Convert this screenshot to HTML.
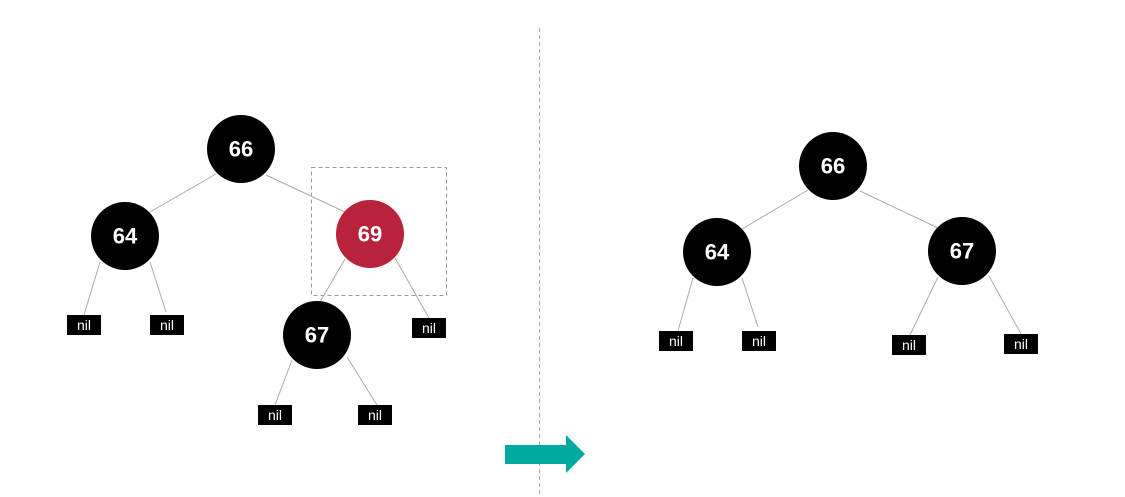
<!DOCTYPE html>
<html><head><meta charset="utf-8"><style>
html,body{margin:0;padding:0;background:#fff;}
svg{display:block;}
.n text{font-family:"Liberation Sans",sans-serif;font-weight:bold;font-size:22px;fill:#fff;text-anchor:middle;dominant-baseline:central;}
.nil text{font-family:"Liberation Sans",sans-serif;font-size:14px;fill:#fff;text-anchor:middle;dominant-baseline:central;}
line.e{stroke:#aaa;stroke-width:1;}
</style></head><body>
<svg width="1125" height="497" viewBox="0 0 1125 497">
<line x1="539.5" y1="28" x2="539.5" y2="497" stroke="#aaa" stroke-dasharray="4,3"/>
<rect x="311.5" y="167.5" width="135" height="128" fill="none" stroke="#999" stroke-dasharray="4,3"/>
<g>
<line class="e" x1="216" y1="174" x2="150" y2="212"/>
<line class="e" x1="266" y1="175" x2="345" y2="212"/>
<line class="e" x1="100" y1="262" x2="84" y2="315"/>
<line class="e" x1="150" y1="262" x2="166" y2="312"/>
<line class="e" x1="345" y1="259" x2="320" y2="302"/>
<line class="e" x1="395" y1="258" x2="429" y2="318"/>
<line class="e" x1="292" y1="360" x2="275" y2="405"/>
<line class="e" x1="347" y1="357" x2="377" y2="405"/>
</g>
<g>
<line class="e" x1="808" y1="190" x2="742" y2="229"/>
<line class="e" x1="860" y1="191" x2="938" y2="228"/>
<line class="e" x1="693" y1="278" x2="678" y2="331"/>
<line class="e" x1="742" y1="278" x2="758" y2="327"/>
<line class="e" x1="938" y1="277" x2="910" y2="335"/>
<line class="e" x1="989" y1="276" x2="1021" y2="334"/>
</g>
<g class="n"><circle cx="241" cy="149" r="34" fill="#000"/><text x="241" y="149">66</text></g>
<g class="n"><circle cx="125" cy="236" r="34" fill="#000"/><text x="125" y="236">64</text></g>
<g class="n"><circle cx="370" cy="234" r="34" fill="#b8223b"/><text x="370" y="234">69</text></g>
<g class="n"><circle cx="317" cy="335" r="34" fill="#000"/><text x="317" y="335">67</text></g>
<g class="n"><circle cx="833" cy="166" r="34" fill="#000"/><text x="833" y="166">66</text></g>
<g class="n"><circle cx="717" cy="252" r="34" fill="#000"/><text x="717" y="252">64</text></g>
<g class="n"><circle cx="962" cy="251" r="34" fill="#000"/><text x="962" y="251">67</text></g>
<g class="nil"><rect x="67" y="315" width="34" height="20" fill="#000"/><text x="84" y="325">nil</text></g>
<g class="nil"><rect x="150" y="315" width="34" height="20" fill="#000"/><text x="167" y="325">nil</text></g>
<g class="nil"><rect x="412" y="318" width="34" height="20" fill="#000"/><text x="429" y="328">nil</text></g>
<g class="nil"><rect x="258" y="405" width="34" height="20" fill="#000"/><text x="275" y="415">nil</text></g>
<g class="nil"><rect x="358" y="405" width="34" height="20" fill="#000"/><text x="375" y="415">nil</text></g>
<g class="nil"><rect x="659" y="331" width="34" height="20" fill="#000"/><text x="676" y="341">nil</text></g>
<g class="nil"><rect x="742" y="331" width="34" height="20" fill="#000"/><text x="759" y="341">nil</text></g>
<g class="nil"><rect x="892" y="335" width="34" height="20" fill="#000"/><text x="909" y="345">nil</text></g>
<g class="nil"><rect x="1004" y="334" width="34" height="20" fill="#000"/><text x="1021" y="344">nil</text></g>
<polygon points="505,445 566,445 566,435 585,454 566,473 566,464 505,464" fill="#00a99d"/>
</svg>
</body></html>
